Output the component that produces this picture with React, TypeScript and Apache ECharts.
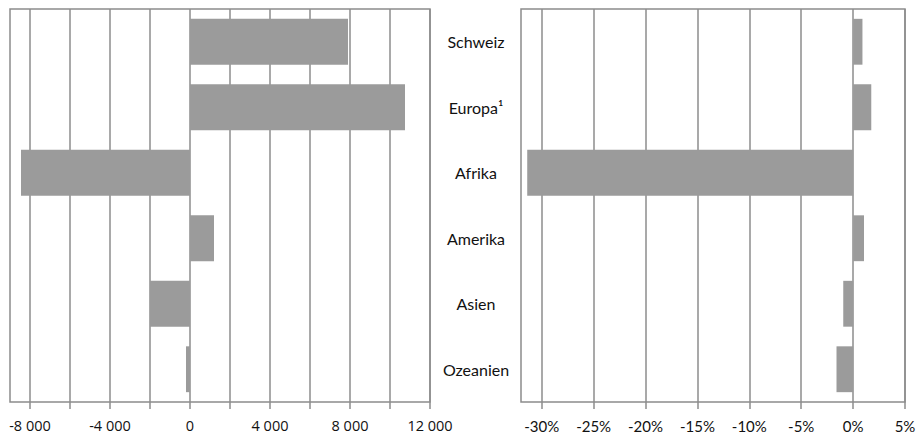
import React, { useEffect, useRef } from "react";
import * as echarts from "echarts";

const categories = ["Schweiz", "Europa¹", "Afrika", "Amerika", "Asien", "Ozeanien"];
const absValues = [7900, 10750, -8450, 1200, -2000, -200];
const pctValues = [0.9, 1.75, -31.4, 1.05, -0.95, -1.6];
const absTicks = [-8000, -6000, -4000, -2000, 0, 2000, 4000, 6000, 8000, 10000, 12000];
const absLabels = [-8000, -4000, 0, 4000, 8000, 12000];
const pctTicks = [-30, -25, -20, -15, -10, -5, 0, 5];

const fmtNum = (v: number) => {
  const s = Math.abs(v).toString().replace(/\B(?=(\d{3})+(?!\d))/g, " ");
  return (v < 0 ? "-" : "") + s;
};

export default function App() {
  const ref = useRef<HTMLDivElement>(null);
  useEffect(() => {
    const chart = echarts.init(ref.current!, null, { renderer: "svg" });
    const lineColor = "#8c8c8c";
    const barColor = "#9b9b9b";
    chart.setOption({
      animation: false,
      grid: [
        { left: 10, top: 9, width: 420, height: 393, show: true, borderColor: lineColor, borderWidth: 1.5, containLabel: false },
        { left: 521, top: 9, width: 384, height: 393, show: true, borderColor: lineColor, borderWidth: 1.5, containLabel: false },
      ],
      xAxis: [
        {
          gridIndex: 0,
          type: "value",
          min: -9000,
          max: 12000,
          axisLine: { show: false },
          axisTick: { show: true, length: 7, lineStyle: { color: lineColor, width: 1.5 }, customValues: absTicks },
          axisLabel: {
            customValues: absLabels,
            formatter: (v: number) => fmtNum(v),
            fontFamily: "Open Sans",
            fontSize: 14.5,
            color: "#111",
            margin: 16,
          },
          splitLine: { show: true, lineStyle: { color: lineColor, width: 1.5 } },
        },
        {
          gridIndex: 1,
          type: "value",
          min: -32,
          max: 5,
          axisLine: { show: false },
          axisTick: { show: true, length: 7, lineStyle: { color: lineColor, width: 1.5 }, customValues: pctTicks },
          axisLabel: {
            customValues: pctTicks,
            formatter: (v: number) => v + "%",
            fontFamily: "Lato",
            fontSize: 15,
            color: "#111",
            margin: 16,
          },
          splitLine: { show: true, lineStyle: { color: lineColor, width: 1.5 } },
        },
      ],
      yAxis: [
        {
          gridIndex: 0,
          type: "category",
          data: categories,
          inverse: true,
          axisLine: { show: false },
          axisTick: { show: false },
          axisLabel: { show: false },
        },
        {
          gridIndex: 1,
          type: "category",
          data: categories,
          inverse: true,
          axisLine: { show: false },
          axisTick: { show: false },
          axisLabel: {
            show: true,
            align: "center",
            margin: 45,
            fontFamily: "Lato",
            fontSize: 16,
            color: "#111",
          },
        },
      ],
      series: [
        {
          type: "bar",
          xAxisIndex: 0,
          yAxisIndex: 0,
          data: absValues,
          barCategoryGap: "30%",
          itemStyle: { color: barColor },
        },
        {
          type: "bar",
          xAxisIndex: 1,
          yAxisIndex: 1,
          data: pctValues,
          barCategoryGap: "30%",
          itemStyle: { color: barColor },
        },
      ],
    });
    return () => chart.dispose();
  }, []);
  return (
    <div
      ref={ref}
      style={{ position: "fixed", left: 0, top: 0, width: 919, height: 438, background: "#fff" }}
    />
  );
}
